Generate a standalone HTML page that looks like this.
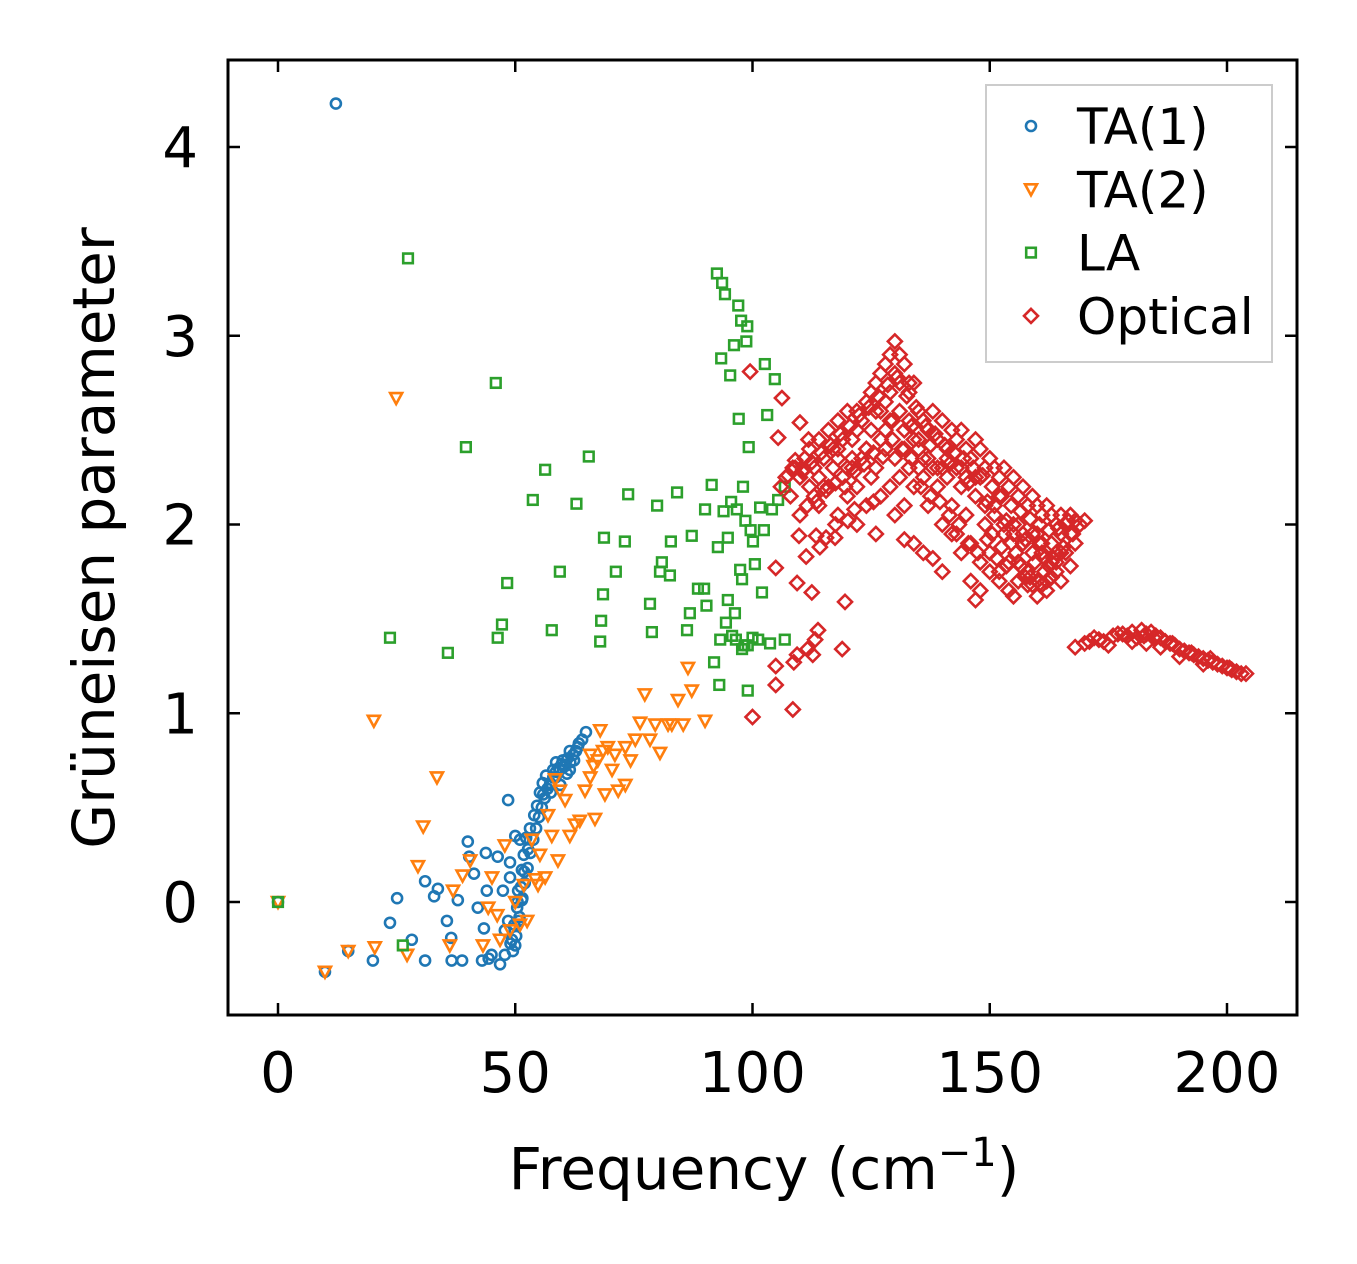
<!DOCTYPE html>
<html><head><meta charset="utf-8"><style>
html,body{margin:0;padding:0;background:#fff;}
svg{display:block;font-family:"DejaVu Sans","Liberation Sans",sans-serif;}
</style></head><body>
<svg id="chart" width="1357" height="1264" viewBox="0 0 1357 1264" xmlns="http://www.w3.org/2000/svg">
<rect x="0" y="0" width="1357" height="1264" fill="#fff"/>
<g id="marks"></g>
<g id="axes"></g>
<rect x="228" y="60" width="1069" height="955" fill="none" stroke="#000" stroke-width="3"/>
<text x="764" y="1189" font-size="58" text-anchor="middle">Frequency (cm<tspan dy="-23" font-size="40">−1</tspan><tspan dy="23">)</tspan></text>
<text transform="translate(114,538) rotate(-90)" font-size="58" text-anchor="middle">Grüneisen parameter</text>
<g>
<rect x="986" y="85" width="286" height="277" fill="#fff" stroke="#ccc" stroke-width="2"/>
<g id="legend-items"></g>
</g>
</svg>
<script>
const xTicks=[0,50,100,150,200];
const yTicks=[0,1,2,3,4];
const ta1F=[12.2,0,9.9,14.8,20,23.6,25.1,28.2,31,31,32.9,33.7,35.6,36.5,36.6,37.9,38.8,40,40.3,41.3,42.1,43,43.4,43.8,44,44.4,45,46.3,46.8,47.4,47.8,48.5,48.9,48.9,49.3,50,50.4,50.6,51,51.4,51.8,52.3,53.1,54,54.6,55.2,55.8,56.5,57.3,58,58.6,59.4,60,60.9,61.5,62.4,63.2,64.1,64.9,55.9,52.7,51.4,50.8,50,48.5,47.8,49.5,50.2,50.9,51.5,52,52.6,53.2,53.8,54.4,55,55.6,56.2,56.8,57.4,58,58.6,59.2,59.8,60.4,61,61.6,62.2,62.8,63.4,49,49.8,50.5,51.2,51.9,58.5,59.5,60.5,61.5,57.5];
const ta1G=[4.23,0,-0.37,-0.26,-0.31,-0.11,0.02,-0.2,-0.31,0.11,0.03,0.07,-0.1,-0.19,-0.31,0.01,-0.31,0.32,0.24,0.15,-0.03,-0.31,-0.14,0.26,0.06,-0.3,-0.28,0.24,-0.33,0.06,-0.28,0.54,0.21,0.13,-0.2,0.35,-0.03,0.06,0.33,0.17,0.25,0.34,0.39,0.46,0.51,0.58,0.63,0.67,0.62,0.7,0.74,0.7,0.75,0.68,0.8,0.75,0.82,0.86,0.9,0.57,0.28,0.01,-0.1,-0.23,-0.1,-0.15,-0.26,-0.18,-0.08,0.02,0.1,0.18,0.26,0.33,0.39,0.45,0.5,0.55,0.6,0.63,0.66,0.69,0.71,0.73,0.72,0.76,0.74,0.78,0.8,0.84,-0.22,-0.12,0.0,0.08,0.16,0.66,0.62,0.72,0.7,0.58];
const ta2F=[0,9.9,14.8,20.4,20.2,24.9,27.2,29.5,30.6,33.5,36.2,36.9,38.9,40.5,43.2,44.3,45.1,46.2,46.8,47.8,48.9,50,51,51.8,52.5,53.5,54.2,54.8,55.2,56.3,56.9,57.7,58.4,59,59.4,60.5,61.5,62.6,63.6,64.7,65.8,66.8,67.4,67.9,68.5,68.9,70.4,71.7,73.2,74.3,75.3,76.3,77.3,78.4,79.5,80.5,82.2,83,84.3,85.4,86.4,87.2,90,73.2,65.8,69.5,71,66.5];
const ta2G=[0,-0.37,-0.26,-0.24,0.96,2.67,-0.28,0.19,0.4,0.66,-0.23,0.06,0.14,0.22,-0.23,-0.03,0.13,-0.07,-0.2,0.3,-0.15,0,-0.12,0.09,-0.1,0.33,0.12,0.09,0.25,0.13,0.46,0.35,0.65,0.22,0.59,0.54,0.35,0.41,0.43,0.59,0.66,0.44,0.75,0.91,0.8,0.57,0.7,0.59,0.82,0.75,0.86,0.95,1.1,0.86,0.94,0.79,0.94,0.94,1.07,0.94,1.24,1.12,0.96,0.62,0.78,0.82,0.78,0.72];
const laF=[0,26.3,27.4,23.6,35.8,39.6,45.9,46.3,47.2,48.3,53.7,56.3,57.7,59.4,62.9,65.5,67.9,68.1,68.5,68.7,71.2,73.1,73.8,78.4,78.8,79.9,80.5,80.9,82.6,82.8,84.1,86.2,86.8,87.2,88.5,89.8,90,90.3,91.4,91.9,92.5,92.7,93,93.4,93.6,93.9,94.2,94.4,94.8,94.8,95.3,95.5,95.7,96.1,96.3,96.7,97,97.1,97.4,97.6,97.8,98,98.3,98.5,98.7,98.9,99,99.2,99.6,100,100.1,100.5,101.2,101.6,102,102.4,102.6,103.1,103.7,104.1,104.7,105.4,106.8,106.8,99,97.8,96.5,93.2];
const laG=[0,-0.23,3.41,1.4,1.32,2.41,2.75,1.4,1.47,1.69,2.13,2.29,1.44,1.75,2.11,2.36,1.38,1.49,1.63,1.93,1.75,1.91,2.16,1.58,1.43,2.1,1.75,1.8,1.73,1.91,2.17,1.44,1.53,1.94,1.66,1.66,2.08,1.57,2.21,1.27,3.33,1.88,1.15,2.88,3.28,2.07,3.22,1.48,1.6,1.93,2.79,2.12,1.41,2.95,1.53,2.08,3.16,2.56,1.76,3.08,1.71,2.2,1.36,2.02,2.97,3.05,1.12,2.41,1.97,1.4,1.91,1.79,1.39,2.09,1.64,1.97,2.85,2.58,1.37,2.08,2.77,2.13,1.39,2.2,1.36,1.34,1.39,1.39];
const optF=[99.5,100,106.2,105.4,104.9,104.9,104.9,108.5,108.7,109.4,109.4,109.8,110,111.3,112.5,113.2,113.8,112.7,111.6,113.4,114.2,115.5,117.4,118,118.9,119.5,120.1,110.7,111.8,107.5,109,
120,121,122,122,123,124,124,125,125,126,126,127,127,128,128,129,129,130,130,131,131,132,132,133,133,134,134,135,135,136,137,138,139,140,141,142,143,144,145,146,147,148,149,150,151,152,153,154,155,156,157,158,159,160,161,162,163,164,165,166,167,168,169,170,
112,113,114,115,116,117,118,119,120,121,122,123,124,125,126,127,128,129,130,131,132,133,134,135,136,137,138,139,140,141,142,143,144,145,146,147,148,149,150,151,152,153,154,155,156,157,158,159,160,161,162,163,164,165,166,167,168,
110,114,118,122,126,130,132,134,136,138,140,142,144,146,147,148,150,152,154,156,158,160,162,164,
106,107,108,109,110,111,112,113,114,115,116,117,118,119,120,
168,170,172,174,176,178,180,181,182,183,184,185,186,187,188,189,190,191,192,193,194,195,196,197,198,199,200,201,202,204,180,183,186,175,190,195,
127,129,131,133,135,137,139,141,143,145,147,149,151,153,155,157,159,161,163,165,121,124,128,132,136,140,144,148,152,156,160,164,
108.5,110.5,112.5,114.5,116.5,118.5,120.5,122.5,124.5,126.5,128.5,130.5,132.5,134.5,136.5,138.5,140.5,142.5,144.5,146.5,148.5,150.5,152.5,154.5,156.5,158.5,160.5,162.5,164.5,166.5,
111.5,113.5,115.5,117.5,119.5,121.5,123.5,125.5,127.5,129.5,131.5,133.5,135.5,137.5,139.5,141.5,143.5,145.5,147.5,149.5,151.5,153.5,155.5,157.5,159.5,161.5,163.5,165.5,167.5,
117.5,121.5,125.5,129.5,133.5,137.5,141.5,145.5,149.5,153.5,157.5,161.5,163,165,167,
150.5,152.5,154.5,156.5,158.5,160.5,162.5,155,159,161,
171,173,177,179,182.5,184.5,188.5,192.5,196.5,200.5,203];
const optG=[2.81,0.98,2.67,2.46,1.77,1.25,1.15,1.02,1.27,1.31,1.69,1.94,2.54,1.83,1.64,1.39,1.44,1.31,1.34,1.94,1.88,1.93,1.93,2.35,1.34,1.59,2.02,2.29,2.45,2.26,2.34,
2.3,2.45,2.5,2.6,2.55,2.65,2.4,2.7,2.5,2.75,2.6,2.8,2.45,2.85,2.65,2.9,2.7,2.97,2.8,2.9,2.6,2.85,2.5,2.75,2.7,2.75,2.45,2.6,2.3,2.55,2.5,2.6,2.45,2.55,2.4,2.5,2.45,2.5,2.4,2.35,2.45,2.4,2.3,2.35,2.3,2.25,2.3,2.2,2.25,2.15,2.2,2.1,2.15,2.1,2.05,2.1,2.05,2.0,2.05,2.0,2.05,2.02,2.0,2.02,
2.2,2.3,2.25,2.35,2.2,2.3,2.4,2.25,2.15,2.3,2.2,2.35,2.1,2.25,2.3,2.15,2.4,2.2,2.35,2.25,2.1,2.3,2.2,2.4,2.25,2.1,2.3,2.2,2.0,2.25,2.1,1.95,2.2,2.05,1.9,2.15,1.8,2.0,1.85,2.1,1.75,1.95,1.8,2.0,1.7,1.9,1.75,1.95,1.7,1.85,1.65,1.9,1.8,1.95,1.85,1.95,1.9,
2.05,2.1,2.05,2.0,1.95,2.05,1.92,1.9,1.85,1.82,1.75,1.95,1.85,1.7,1.6,1.65,1.75,1.7,1.65,1.8,1.68,1.62,1.7,1.75,
2.2,2.25,2.15,2.3,2.25,2.35,2.4,2.15,2.45,2.2,2.5,2.4,2.55,2.45,2.6,
1.35,1.37,1.4,1.38,1.41,1.42,1.43,1.4,1.44,1.42,1.43,1.41,1.4,1.38,1.37,1.36,1.34,1.33,1.32,1.31,1.3,1.29,1.28,1.27,1.26,1.25,1.24,1.23,1.22,1.21,1.38,1.37,1.35,1.36,1.3,1.26,
2.6,2.55,2.75,2.55,2.45,2.35,2.3,2.35,2.3,2.25,2.25,2.1,2.05,2.0,1.95,1.95,1.85,1.9,1.8,1.85,2.35,2.4,2.5,2.4,2.35,2.3,2.3,2.25,2.15,2.0,1.95,1.85,
2.3,2.28,2.33,2.38,2.42,2.48,2.52,2.58,2.62,2.68,2.74,2.78,2.68,2.62,2.52,2.48,2.42,2.38,2.35,2.3,2.26,2.2,2.15,2.1,2.07,2.03,2.0,1.97,1.98,2.02,
2.1,2.12,2.18,2.22,2.2,2.28,2.32,2.38,2.36,2.45,2.4,2.35,2.2,2.15,2.12,2.05,2.0,1.9,1.85,1.92,1.82,1.78,1.85,1.72,1.8,1.75,1.82,1.88,1.95,
2.0,2.08,2.12,2.55,2.52,2.42,2.32,2.22,2.12,2.02,1.92,1.82,1.72,1.7,1.78,
1.95,1.88,1.9,1.78,1.72,1.9,1.78,1.62,1.68,1.68,
1.38,1.39,1.42,1.41,1.41,1.4,1.37,1.32,1.29,1.24,1.21];

const NS="http://www.w3.org/2000/svg";
const x=f=>278+f*4.745;
const y=g=>902-g*188.75;
const marks=document.getElementById('marks');
const axes=document.getElementById('axes');
const C={ta1:'#1f77b4',ta2:'#ff7f0e',la:'#2ca02c',opt:'#d62728'};
function shape(kind,cx,cy){
  let el;
  if(kind==='ta1'){el=document.createElementNS(NS,'circle');el.setAttribute('cx',cx);el.setAttribute('cy',cy);el.setAttribute('r',5);}
  else if(kind==='ta2'){el=document.createElementNS(NS,'polygon');el.setAttribute('points',`${cx-6},${cy-5} ${cx+6},${cy-5} ${cx},${cy+6}`);}
  else if(kind==='la'){el=document.createElementNS(NS,'rect');el.setAttribute('x',cx-4.8);el.setAttribute('y',cy-4.8);el.setAttribute('width',9.6);el.setAttribute('height',9.6);}
  else{el=document.createElementNS(NS,'polygon');el.setAttribute('points',`${cx},${cy-7} ${cx+7},${cy} ${cx},${cy+7} ${cx-7},${cy}`);}
  el.setAttribute('fill','none');el.setAttribute('stroke',C[kind]);el.setAttribute('stroke-width',2.6);
  return el;
}
function series(kind,F,G,name){
  const g=document.createElementNS(NS,'g');
  
  
  for(let i=0;i<F.length;i++){
    const el=shape(kind,x(F[i]),y(G[i]));
    
    
    g.appendChild(el);
  }
  marks.appendChild(g);
}
series('ta1',ta1F,ta1G,'ta1');
series('ta2',ta2F,ta2G,'ta2');
series('la',laF,laG,'la');
series('opt',optF,optG,'optical');

function line(x1,y1,x2,y2,name){
  const l=document.createElementNS(NS,'line');
  l.setAttribute('x1',x1);l.setAttribute('y1',y1);l.setAttribute('x2',x2);l.setAttribute('y2',y2);
  l.setAttribute('stroke','#000');l.setAttribute('stroke-width',2.5);
  
  
  axes.appendChild(l);
}
function txt(s,tx,ty,anchor,name){
  const t=document.createElementNS(NS,'text');
  t.setAttribute('x',tx);t.setAttribute('y',ty);t.setAttribute('font-size',56);t.setAttribute('text-anchor',anchor);
  t.textContent=s;
  
  
  axes.appendChild(t);
}
xTicks.forEach(v=>{
  const px=x(v);
  line(px,1015,px,1003,'x-tick');
  line(px,60,px,72,'x-tick-top');
  txt(String(v),px,1092,'middle','x-tick-label');
});
yTicks.forEach(v=>{
  const py=y(v);
  line(228,py,240,py,'y-tick');
  line(1297,py,1285,py,'y-tick-right');
  txt(String(v),198,py+20,'end','y-tick-label');
});

const legNames=['TA(1)','TA(2)','LA','Optical'];
const legKinds=['ta1','ta2','la','opt'];
const li=document.getElementById('legend-items');
legNames.forEach((n,i)=>{
  const yy=126+i*63.3;
  const g=document.createElementNS(NS,'g');
  
  
  g.appendChild(shape(legKinds[i],1031,yy));
  const t=document.createElementNS(NS,'text');
  t.setAttribute('x',1077);t.setAttribute('y',yy+18);t.setAttribute('font-size',50);
  t.textContent=n;
  g.appendChild(t);
  li.appendChild(g);
});
</script>
</body></html>
